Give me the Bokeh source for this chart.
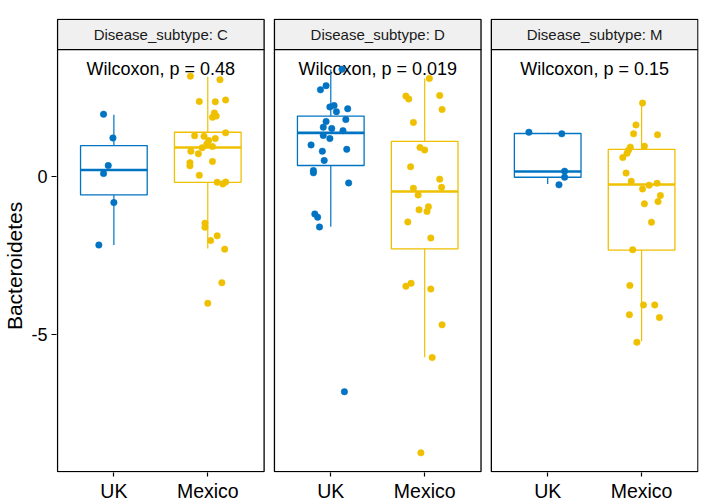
import numpy as np
from bokeh.plotting import figure
from bokeh.models import Range1d, FixedTicker
from bokeh.core.properties import value
from bokeh.embed import file_html
from bokeh.resources import INLINE

# ---------------- data ----------------
subtypes = ["C", "D", "M"]
groups = ["UK", "Mexico"]
group_colors = ["#0073C2", "#EFC000"]
p_labels = ["0.48", "0.019", "0.15"]
y_title = "Bacteroidetes"
y_ticks = [-5, 0]
y_tick_labels = ["-5", "0"]

# points (value) and horizontal jitter (in category units)
C_UK_y = [1.96, 1.21, 0.34, 0.085, -0.83, -2.17]
C_UK_jit = [-0.11, -0.01, -0.06, -0.11, 0.0, -0.16]
C_MX_y = [3.16, 3.05, 2.36, 2.35, 2.41, 2.0, 1.86, 1.9, 1.37, 1.28, 1.26, 1.19, 1.13,
          1.02, 0.94, 0.9, 0.79, 0.71, 0.47, 0.43, 0.33, 0.03, -0.19, -0.24, -0.18,
          -1.48, -1.61, -1.88, -2.03, -2.3, -3.36, -4.01]
C_MX_jit = [-0.185, 0.13, -0.09, 0.08, 0.19, 0.07, 0.05, 0.09, 0.19, -0.14, -0.04, 0.08, 0.01,
            -0.01, 0.05, -0.06, -0.18, -0.10, 0.05, -0.19, -0.19, -0.09, 0.10, 0.16, 0.19,
            -0.03, -0.03, 0.10, 0.03, 0.18, 0.15, 0.0]
D_UK_y = [3.38, 2.86, 2.73, 2.19, 2.23, 2.04, 2.13, 1.79, 1.73, 1.55, 1.51, 1.44, 1.29,
          1.19, 0.99, 0.85, 0.79, 0.5, 0.18, 0.11, -0.21, -1.19, -1.29, -1.6, -6.8]
D_UK_jit = [0.12, -0.05, -0.11, -0.01, 0.035, 0.06, 0.18, 0.16, -0.05, -0.08, 0.01, 0.13, -0.08,
            -0.01, -0.21, 0.17, -0.09, -0.07, -0.185, -0.185, 0.19, -0.17, -0.14, -0.12, 0.145]
D_MX_y = [3.09, 2.53, 2.44, 2.55, 2.11, 1.7, 0.91, 0.83, 0.3, -0.09, -0.38, -0.35, -0.59,
          -0.96, -1.06, -1.11, -1.44, -1.95, -3.47, -3.38, -3.56, -4.69, -5.72, -8.73]
D_MX_jit = [0.05, -0.2, -0.17, 0.16, 0.185, -0.12, -0.05, 0.0, -0.15, 0.16, -0.12, 0.18, -0.07,
            0.04, -0.06, 0.025, -0.18, 0.065, -0.2, -0.145, 0.065, 0.185, 0.08, -0.04]
M_UK_y = [1.39, 1.34, 0.16, -0.03, -0.27]
M_UK_jit = [-0.2, 0.15, 0.18, 0.18, 0.12]
M_MX_y = [2.31, 1.62, 1.34, 1.31, 0.95, 0.92, 0.82, 0.73, 0.59, 0.1, -0.16, -0.4, -0.28,
          -0.22, -0.61, -0.8, -0.87, -1.45, -2.32, -3.45, -4.06, -4.06, -4.37, -4.46, -5.24]
M_MX_jit = [0.01, -0.06, -0.085, 0.17, 0.03, -0.12, -0.14, -0.155, -0.2, -0.165, -0.11, 0.01, 0.08,
            0.165, 0.2, 0.175, 0.03, 0.105, -0.095, -0.125, 0.02, 0.14, -0.13, 0.19, -0.05]

points_y = [[C_UK_y, C_MX_y], [D_UK_y, D_MX_y], [M_UK_y, M_MX_y]]
points_jit = [[C_UK_jit, C_MX_jit], [D_UK_jit, D_MX_jit], [M_UK_jit, M_MX_jit]]

# box statistics, order: C-UK, C-Mexico, D-UK, D-Mexico, M-UK, M-Mexico
box_low = [-2.17, -2.28, -1.59, -5.71, -0.24, -5.21]
box_q1 = [-0.59, -0.19, 0.34, -2.29, -0.03, -2.33]
box_med = [0.2, 0.91, 1.37, -0.48, 0.15, -0.26]
box_q3 = [0.97, 1.39, 1.9, 1.1, 1.35, 0.85]
box_high = [1.94, 3.14, 3.37, 3.09, 1.37, 2.32]

# ---------------- layout ----------------
STEP = 2.31          # distance between panels in category units
BOX_W = 0.71
Y_TOP, Y_BOT = 4.0, -9.32      # panel y extent
STRIP_TOP = 4.95
FONT = "Liberation Sans"

p = figure(width=708, height=504,
           x_range=Range1d(0.389, 7.226),
           y_range=Range1d(-9.35, 4.98),
           output_backend="svg", toolbar_location=None,
           min_border_left=56, min_border_right=10, min_border_top=18, min_border_bottom=32)
p.xgrid.visible = False
p.ygrid.visible = False
p.outline_line_color = None
p.background_fill_color = "white"
p.border_fill_color = "white"

# panels and strips
for k, st in enumerate(subtypes):
    left = 0.4 + k * STEP
    right = 2.6 + k * STEP
    p.quad(left=left, right=right, top=STRIP_TOP, bottom=Y_TOP,
           fill_color="#F0F0F0", line_color="black", line_width=1.3)
    p.quad(left=left, right=right, top=Y_TOP, bottom=Y_BOT,
           fill_color="white", line_color="black", line_width=1.3)
    p.text(x=[(left + right) / 2], y=[(Y_TOP + STRIP_TOP) / 2],
           text=["Disease_subtype: " + st], text_align="center", text_baseline="middle",
           text_font=value(FONT), text_font_size="15px", text_color="#1A1A1A")
    p.text(x=[(left + right) / 2], y=[3.39],
           text=["Wilcoxon, p = " + p_labels[k]], text_align="center",
           text_baseline="alphabetic",
           text_font=value(FONT), text_font_size="18px", text_color="black")

# boxes and points
i = 0
for k in range(len(subtypes)):
    for g in range(len(groups)):
        xc = (g + 1) + k * STEP
        col = group_colors[g]
        p.segment(x0=[xc, xc], y0=[box_q3[i], box_q1[i]], x1=[xc, xc],
                  y1=[box_high[i], box_low[i]], line_color=col, line_width=1.2)
        p.quad(left=xc - BOX_W / 2, right=xc + BOX_W / 2, top=box_q3[i], bottom=box_q1[i],
               fill_color=None, line_color=col, line_width=1.3)
        p.segment(x0=[xc - BOX_W / 2], y0=[box_med[i]], x1=[xc + BOX_W / 2], y1=[box_med[i]],
                  line_color=col, line_width=2.6)
        xs = [xc + j for j in points_jit[k][g]]
        p.scatter(x=xs, y=points_y[k][g], size=6.5, fill_color=col, line_color=col,
                  line_width=0.5)
        i += 1

# x axis
tick_pos = [(g + 1) + k * STEP for k in range(len(subtypes)) for g in range(len(groups))]
tick_lab = [groups[g] for k in range(len(subtypes)) for g in range(len(groups))]
xa = p.xaxis[0]
xa.ticker = FixedTicker(ticks=tick_pos)
xa.major_label_overrides = {t: l for t, l in zip(tick_pos, tick_lab)}
xa.axis_line_color = None
xa.minor_tick_line_color = None
xa.major_tick_in = 0
xa.major_tick_out = 4
xa.major_tick_line_width = 1.2
xa.major_tick_line_color = "black"
xa.major_label_standoff = 3
xa.major_label_text_font = FONT
xa.major_label_text_font_size = "19.5px"
xa.major_label_text_color = "black"

# y axis; the title is padded with no-break spaces so that it is centred on the
# panel area (below the strips) rather than on the whole frame
ya = p.yaxis[0]
ya.ticker = FixedTicker(ticks=y_ticks)
ya.major_label_overrides = {t: l for t, l in zip(y_ticks, y_tick_labels)}
ya.axis_line_color = None
ya.minor_tick_line_color = None
ya.major_tick_in = 0
ya.major_tick_out = 5
ya.major_tick_line_width = 1.2
ya.major_tick_line_color = "black"
ya.major_label_standoff = 4
ya.major_label_text_font = FONT
ya.major_label_text_font_size = "18px"
ya.major_label_text_color = "black"
ya.axis_label = y_title + "\u00a0" * 7
ya.axis_label_text_font = FONT
ya.axis_label_text_font_size = "21px"
ya.axis_label_text_font_style = "normal"
ya.axis_label_text_color = "black"
ya.axis_label_standoff = 2

open("out.html", "w").write(file_html(p, INLINE))
